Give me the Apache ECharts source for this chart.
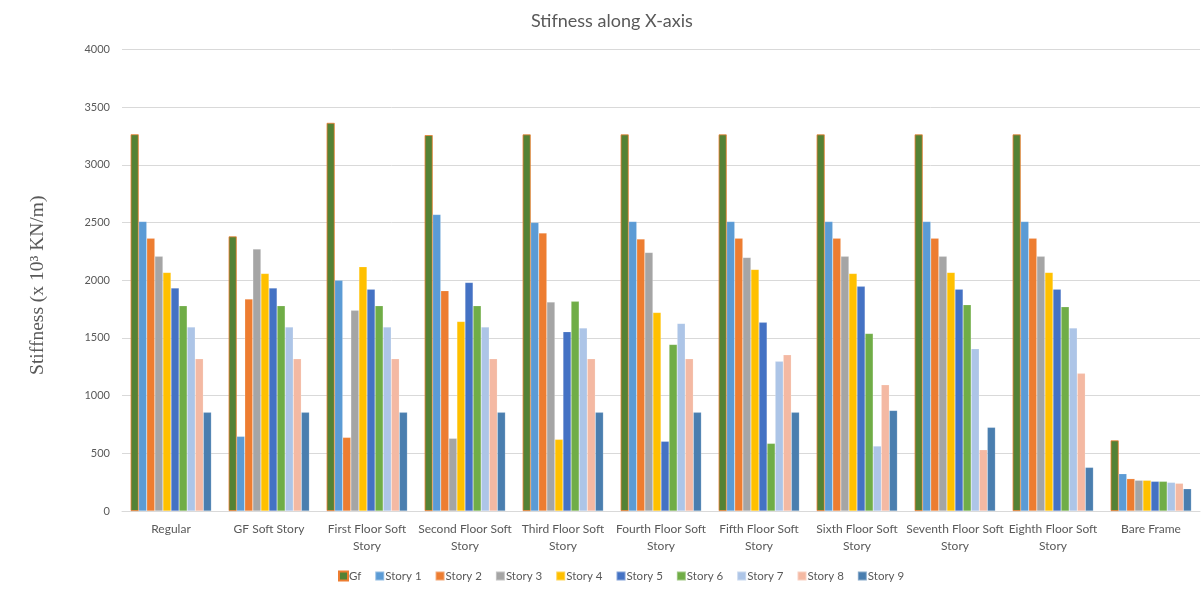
<!DOCTYPE html>
<html>
<head>
<meta charset="utf-8">
<title>Stifness along X-axis</title>
<script src="https://cdn.jsdelivr.net/npm/echarts@6/dist/echarts.min.js"></script>
<style>
  html, body { margin: 0; padding: 0; background: #fff; }
  #chart { width: 1203px; height: 592px; }
</style>
</head>
<body>
<div id="chart"></div>
<script>
// Building configurations (x-axis categories)
const categories = [
  'Regular', 'GF Soft Story', 'First Floor Soft\nStory', 'Second Floor Soft\nStory',
  'Third Floor Soft\nStory', 'Fourth Floor Soft\nStory', 'Fifth Floor Soft\nStory',
  'Sixth Floor Soft\nStory', 'Seventh Floor Soft\nStory', 'Eighth Floor Soft\nStory', 'Bare Frame'
];

// Story stiffness values (x10^3 KN/m), one array per story
const gf     = [3265, 2380, 3364, 3258, 3264, 3264, 3264, 3264, 3264, 3264, 612];
const story1 = [2510,  647, 1999, 2570, 2501, 2510, 2510, 2510, 2510, 2510, 323];
const story2 = [2365, 1837,  638, 1909, 2409, 2357, 2365, 2365, 2365, 2365, 280];
const story3 = [2207, 2270, 1739,  630, 1811, 2241, 2198, 2207, 2207, 2207, 266];
const story4 = [2068, 2059, 2117, 1643,  621, 1721, 2094, 2059, 2068, 2068, 266];
const story5 = [1932, 1932, 1923, 1981, 1554,  604, 1635, 1947, 1923, 1923, 257];
const story6 = [1779, 1779, 1779, 1779, 1817, 1444,  586, 1539, 1788, 1770, 257];
const story7 = [1594, 1594, 1594, 1594, 1586, 1626, 1297,  563, 1406, 1586, 248];
const story8 = [1320, 1320, 1320, 1320, 1320, 1320, 1354, 1094,  531, 1193, 240];
const story9 = [ 855,  855,  855,  855,  855,  855,  855,  872,  725,  378, 193];

// Y-axis ticks
const yMin = 0, yMax = 4000, yStep = 500;

const seriesDefs = [
  { name: 'Gf',      data: gf,     color: '#548235', border: '#ED7D31' },
  { name: 'Story 1', data: story1, color: '#5B9BD5' },
  { name: 'Story 2', data: story2, color: '#ED7D31' },
  { name: 'Story 3', data: story3, color: '#A5A5A5' },
  { name: 'Story 4', data: story4, color: '#FFC000' },
  { name: 'Story 5', data: story5, color: '#4472C4' },
  { name: 'Story 6', data: story6, color: '#70AD47' },
  { name: 'Story 7', data: story7, color: '#ADC5E7' },
  { name: 'Story 8', data: story8, color: '#F4B9A3' },
  { name: 'Story 9', data: story9, color: '#4A7EAF' }
];

const textColor = '#595959';
const font = 'Lato, "Open Sans", sans-serif';

const chart = echarts.init(document.getElementById('chart'), null, { renderer: 'canvas' });

chart.setOption({
  animation: false,
  backgroundColor: '#ffffff',
  title: {
    text: 'Stifness along X-axis',
    left: 526,
    top: 7,
    textStyle: { color: textColor, fontFamily: font, fontSize: 18, fontWeight: 'normal' }
  },
  legend: {
    bottom: 5,
    left: 333,
    itemWidth: 9,
    itemHeight: 9,
    itemGap: 13,
    icon: 'rect',
    textStyle: { color: textColor, fontFamily: font, fontSize: 11.5, padding: [0, 0, 0, -4] },
    data: seriesDefs.map(s => s.name)
  },
  grid: { left: 122, right: 3, top: 49.5, bottom: 81, containLabel: false },
  xAxis: {
    type: 'category',
    data: categories,
    axisLine: { lineStyle: { color: '#D9D9D9', width: 1 } },
    axisTick: { show: false },
    axisLabel: {
      color: textColor, fontFamily: font, fontSize: 12, margin: 10,
      lineHeight: 17, interval: 0
    }
  },
  yAxis: {
    type: 'value',
    min: yMin,
    max: yMax,
    interval: yStep,
    name: 'Stiffness (x 10³ KN/m)',
    nameLocation: 'middle',
    nameGap: 74,
    nameTextStyle: { color: textColor, fontFamily: '"Liberation Serif", serif', fontSize: 19.5, padding: [0, 10, 0, 0] },
    axisLine: { show: false },
    axisTick: { show: false },
    axisLabel: {
      color: textColor, fontFamily: font, fontSize: 11, margin: 12,
      formatter: v => String(v)
    },
    splitLine: { lineStyle: { color: '#D9D9D9', width: 1 } }
  },
  series: seriesDefs.map(s => ({
    name: s.name,
    type: 'bar',
    data: s.data,
    barGap: '0%',
    barCategoryGap: '17.6%',
    itemStyle: {
      color: s.color,
      borderColor: s.border || 'rgba(255,255,255,0.35)',
      borderWidth: s.border ? 0.8 : 0.5
    }
  }))
});
</script>
</body>
</html>
